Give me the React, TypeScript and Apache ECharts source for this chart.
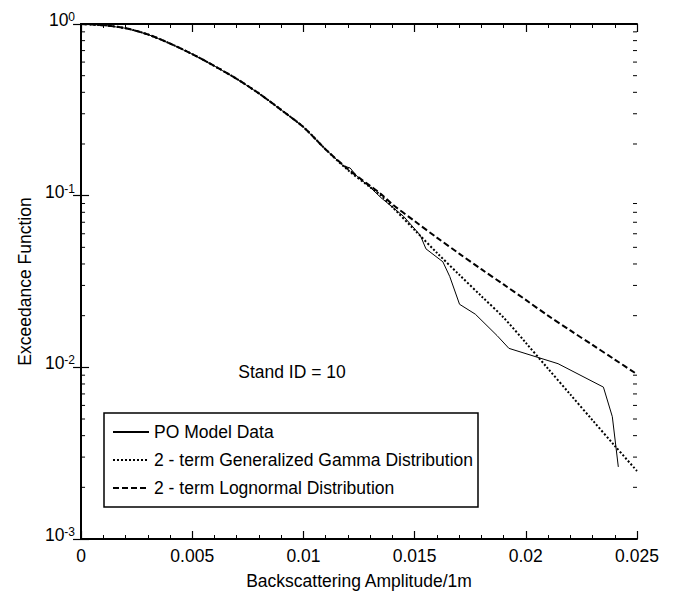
import React, { useEffect, useRef } from "react";
import * as echarts from "echarts";

const xCommon = [0, 0.001, 0.002, 0.003, 0.004, 0.005, 0.006, 0.007, 0.008, 0.009, 0.01, 0.011];
const yCommon = [1, 0.984, 0.945, 0.87, 0.77, 0.668, 0.569, 0.479, 0.394, 0.316, 0.251, 0.186];

const xPO = [0.0118, 0.0121, 0.0124, 0.013, 0.01348, 0.0145, 0.01525, 0.01551, 0.01627, 0.01658, 0.01702, 0.01773, 0.01871, 0.01924, 0.02145, 0.02349, 0.02389, 0.02416];
const yPO = [0.149, 0.145, 0.13, 0.112, 0.0975, 0.0759, 0.0589, 0.049, 0.0412, 0.0338, 0.0233, 0.0204, 0.0153, 0.0129, 0.0105, 0.00767, 0.00516, 0.00263];

const xTail = [0.012, 0.013, 0.0135, 0.014, 0.015, 0.016, 0.017, 0.018, 0.019, 0.02, 0.021, 0.022, 0.023, 0.024, 0.025];
const yGamma = [0.141, 0.112, 0.1, 0.0859, 0.0631, 0.0465, 0.0347, 0.026, 0.0195, 0.0139, 0.00982, 0.00695, 0.00492, 0.00349, 0.00249];
const yLogn = [0.143, 0.114, 0.102, 0.0891, 0.0711, 0.057, 0.046, 0.0373, 0.0304, 0.0247, 0.02, 0.0164, 0.0135, 0.0111, 0.00912];

const yMinorTicks = [
  0.002, 0.003, 0.004, 0.005, 0.006, 0.007, 0.008, 0.009,
  0.02, 0.03, 0.04, 0.05, 0.06, 0.07, 0.08, 0.09,
  0.2, 0.3, 0.4, 0.5, 0.6, 0.7, 0.8, 0.9,
];

const seriesNames = [
  "PO Model Data",
  "2 - term Generalized Gamma Distribution",
  "2 - term Lognormal Distribution",
];

const FONT = "'Liberation Sans', Arial, sans-serif";
const FS = 17.5;

function pairs(xs: number[], ys: number[]) {
  return xs.map((x, i) => [x, ys[i]]);
}

export default function App() {
  const ref = useRef<HTMLDivElement>(null);
  useEffect(() => {
    if (!ref.current) return;
    const chart = echarts.init(ref.current, undefined, { renderer: "svg" });
    const commonPairs = pairs(xCommon, yCommon);
    const xBase = {
      type: "value",
      min: 0,
      max: 0.025,
      interval: 0.005,
      axisLine: { show: true, lineStyle: { color: "#000", width: 2 } },
      axisTick: { show: true, inside: true, length: 8, lineStyle: { color: "#000", width: 1.2 } },
      minorTick: { show: true, splitNumber: 5, length: 4, lineStyle: { color: "#000", width: 1 } },
      splitLine: { show: false },
      minorSplitLine: { show: false },
    };
    const yBase = {
      type: "log",
      logBase: 10,
      min: 0.001,
      max: 1,
      axisLine: { show: true, lineStyle: { color: "#000", width: 2 } },
      axisTick: { show: true, inside: true, length: 8, lineStyle: { color: "#000", width: 1.2 } },
      splitLine: { show: false },
    };
    chart.setOption({
      animation: false,
      backgroundColor: "#fff",
      textStyle: { fontFamily: FONT },
      grid: { left: 65, right: 33, top: 16, bottom: 49, containLabel: false },
      legend: {
        data: seriesNames,
        orient: "vertical",
        left: 96,
        top: 405,
        itemWidth: 36,
        itemHeight: 10,
        itemGap: 10,
        padding: [10, 5, 10, 8],
        borderColor: "#000",
        borderWidth: 1.5,
        backgroundColor: "#fff",
        itemStyle: { opacity: 0 },
        textStyle: { fontSize: FS, color: "#000", fontFamily: FONT },
        selectedMode: false,
      },
      graphic: [
        {
          type: "text",
          x: 284,
          y: 364,
          style: {
            text: "Stand ID = 10",
            fontSize: FS,
            fill: "#000",
            fontFamily: FONT,
            align: "center",
            verticalAlign: "middle",
          },
        },
      ],
      xAxis: [
        {
          ...xBase,
          position: "bottom",
          name: "Backscattering Amplitude/1m",
          nameLocation: "middle",
          nameGap: 33,
          nameTextStyle: { fontSize: FS, color: "#000", fontFamily: FONT },
          axisLabel: { fontSize: FS, color: "#000", margin: 8, fontFamily: FONT },
        },
        {
          ...xBase,
          position: "top",
          axisLabel: { show: false },
        },
      ],
      yAxis: [
        {
          ...yBase,
          position: "left",
          name: "Exceedance Function",
          nameLocation: "middle",
          nameGap: 32,
          nameTextStyle: { fontSize: FS, color: "#000", fontFamily: FONT },
          axisLabel: {
            margin: 6,
            color: "#000",
            formatter: (v: number) => `{b|10}{s|${Math.round(Math.log10(v))}}`,
            padding: [0, 0, 8, 0],
            rich: {
              b: { fontSize: FS, lineHeight: 18, verticalAlign: "bottom", color: "#000", fontFamily: FONT },
              s: { fontSize: 12, lineHeight: 12, verticalAlign: "top", padding: [0, 0, 14, 0], color: "#000", fontFamily: FONT },
            },
          },
        },
        {
          ...yBase,
          position: "right",
          axisLabel: { show: false },
        },
      ],
      series: [
        {
          name: seriesNames[0],
          type: "line",
          symbol: "none",
          data: [...commonPairs, ...pairs(xPO, yPO)],
          lineStyle: { color: "#000", width: 1 },
          itemStyle: { color: "#000" },
          z: 3,
        },
        {
          name: seriesNames[1],
          type: "line",
          symbol: "none",
          smooth: 0.3,
          data: [...commonPairs, ...pairs(xTail, yGamma)],
          lineStyle: { color: "#000", width: 2, type: [2, 2] },
          itemStyle: { color: "#000" },
          z: 2,
        },
        {
          name: seriesNames[2],
          type: "line",
          symbol: "none",
          smooth: 0.3,
          data: [...commonPairs, ...pairs(xTail, yLogn)],
          lineStyle: { color: "#000", width: 2, type: [6, 3] },
          itemStyle: { color: "#000" },
          z: 2,
        },
        {
          type: "custom",
          silent: true,
          clip: false,
          data: yMinorTicks.map((v) => [0, v]),
          renderItem: (params: any, api: any) => {
            const v = api.value(1);
            const l = api.coord([0, v]);
            const r = api.coord([0.025, v]);
            return {
              type: "group",
              children: [
                { type: "line", shape: { x1: l[0], y1: l[1], x2: l[0] + 4, y2: l[1] }, style: { stroke: "#000", lineWidth: 1 } },
                { type: "line", shape: { x1: r[0], y1: r[1], x2: r[0] - 4, y2: r[1] }, style: { stroke: "#000", lineWidth: 1 } },
              ],
            };
          },
          z: 1,
        },
      ],
    });
    return () => chart.dispose();
  }, []);
  return <div ref={ref} style={{ width: 662, height: 587 }} />;
}
